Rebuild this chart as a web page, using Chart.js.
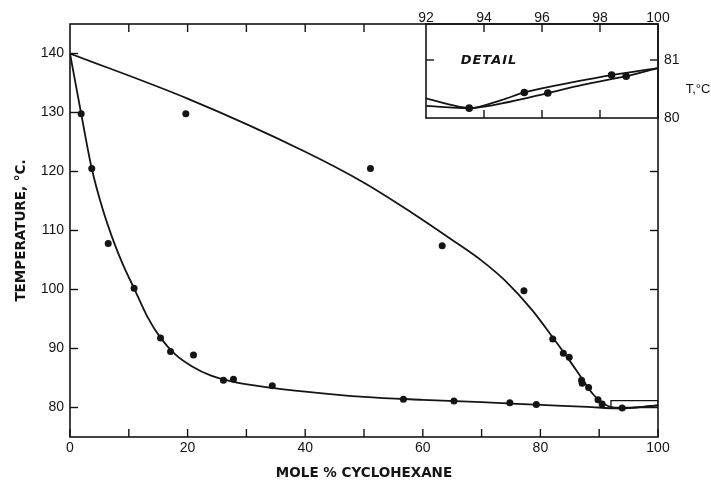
<!DOCTYPE html>
<html>
<head>
<meta charset="utf-8">
<script src="https://cdn.jsdelivr.net/npm/chart.js@4.4.1/dist/chart.umd.min.js"></script>
<style>
  html, body { margin: 0; padding: 0; background: #fff; }
  #wrap { position: relative; width: 711px; height: 482px; }
  #main { position: absolute; left: 0; top: 0; }
  #detail { position: absolute; left: 400px; top: 0; }
</style>
</head>
<body>
<div id="wrap">
  <canvas id="main" width="711" height="482"></canvas>
  <canvas id="detail" width="311" height="135"></canvas>
</div>
<script>
// Boiling points of the mixture, mole % cyclohexane vs temperature (°C)
const liquidPointsX = [1.9, 3.7, 6.5, 10.9, 15.4, 17.1, 21.0, 26.1, 27.8, 34.4, 56.7, 65.3, 74.8, 79.3];
const liquidPointsT = [129.8, 120.5, 107.8, 100.2, 91.8, 89.5, 88.9, 84.6, 84.8, 83.7, 81.4, 81.1, 80.8, 80.5];

const vaporPointsX = [19.7, 51.1, 63.3, 77.2, 82.1, 83.9, 84.9, 87.0, 87.1, 88.2, 89.8, 90.5, 93.9];
const vaporPointsT = [129.8, 120.5, 107.4, 99.8, 91.6, 89.2, 88.5, 84.6, 84.1, 83.4, 81.3, 80.6, 79.9];

// Smoothed curves through the measurements
const liquidCurveX = [0, 1.9, 3.7, 5.5, 7.4, 9.1, 10.9, 13.1, 15.4, 17.9, 20.7, 24, 28, 33, 40, 50, 60, 70, 80, 88, 93.5, 100];
const liquidCurveT = [140, 129.8, 120.5, 113.8, 108.2, 104.0, 100.2, 95.5, 91.8, 89.0, 87.0, 85.4, 84.3, 83.5, 82.7, 81.8, 81.3, 80.9, 80.45, 80.1, 79.85, 80.35];

const vaporCurveX = [0, 20, 40, 50, 58, 65, 70, 74, 78.6, 82.3, 85, 87, 89, 91, 93.5, 100];
const vaporCurveT = [140, 132.35, 123.35, 118.1, 113.1, 108.4, 104.9, 101.5, 96.5, 91.6, 87.9, 85.0, 82.2, 80.5, 79.85, 80.35];

// Outline of the region enlarged in the detail panel
const detailBoxX = [92, 100, 100, 92, 92];
const detailBoxT = [80.0, 80.0, 81.15, 81.15, 80.0];

const xTickValues = [0, 10, 20, 30, 40, 50, 60, 70, 80, 90, 100];
const xTopTickValues = [10, 20, 30, 40, 50];
const yTickValues = [80, 90, 100, 110, 120, 130, 140];
const yRightTickValues = [90, 100, 110, 120];

// Detail panel near the azeotrope
const detailVaporX = [92, 92.9, 93.5, 94.6, 95.39, 97.2, 98.4, 100];
const detailVaporT = [80.34, 80.22, 80.17, 80.31, 80.44, 80.63, 80.74, 80.86];
const detailLiquidX = [92, 92.9, 93.5, 94.9, 96.2, 97.4, 98.9, 100];
const detailLiquidT = [80.21, 80.18, 80.17, 80.28, 80.43, 80.57, 80.72, 80.86];
const detailPointsX = [93.49, 95.39, 96.2, 98.4, 98.9];
const detailPointsT = [80.17, 80.44, 80.43, 80.74, 80.72];
const detailXTickValues = [92, 94, 96, 98, 100];
const detailYTickValues = [80, 81];

const INK = '#141414';
const tickFont = { family: 'Liberation Sans, Arial, sans-serif', size: 14 };
const titleFont = { family: 'DejaVu Sans, sans-serif', size: 13.5, weight: 'bold' };

const pts = (xs, ys) => xs.map((x, i) => ({ x, y: ys[i] }));

function curve(xs, ys) {
  return {
    data: pts(xs, ys), showLine: true, borderColor: INK, borderWidth: 1.8,
    pointRadius: 0, cubicInterpolationMode: 'monotone', fill: false
  };
}
function markers(xs, ys, r) {
  return {
    data: pts(xs, ys), showLine: false, pointRadius: r, pointBackgroundColor: INK,
    pointBorderColor: INK, pointBorderWidth: 0
  };
}

function strokeTick(ctx, x1, y1, x2, y2) {
  ctx.beginPath(); ctx.moveTo(x1, y1); ctx.lineTo(x2, y2); ctx.stroke();
}

// Frame and inward-pointing tick marks of the main plot
const mainFrame = {
  id: 'mainFrame',
  afterDraw(chart) {
    const { ctx, chartArea: a, scales: { x, y } } = chart;
    const len = 8;
    ctx.save();
    ctx.strokeStyle = INK;
    ctx.lineWidth = 1.6;
    ctx.strokeRect(a.left, a.top, a.right - a.left, a.bottom - a.top);
    ctx.lineWidth = 1.4;
    xTickValues.forEach(v => { const px = x.getPixelForValue(v); strokeTick(ctx, px, a.bottom, px, a.bottom - len); });
    xTopTickValues.forEach(v => { const px = x.getPixelForValue(v); strokeTick(ctx, px, a.top, px, a.top + len); });
    yTickValues.forEach(v => { const py = y.getPixelForValue(v); strokeTick(ctx, a.left, py, a.left + len, py); });
    yRightTickValues.forEach(v => { const py = y.getPixelForValue(v); strokeTick(ctx, a.right, py, a.right - len, py); });
    ctx.restore();
  }
};

new Chart(document.getElementById('main'), {
  type: 'scatter',
  data: {
    datasets: [
      curve(liquidCurveX, liquidCurveT),
      curve(vaporCurveX, vaporCurveT),
      { data: pts(detailBoxX, detailBoxT), showLine: true, borderColor: INK, borderWidth: 1.3, pointRadius: 0, tension: 0 },
      markers(liquidPointsX, liquidPointsT, 3.5),
      markers(vaporPointsX, vaporPointsT, 3.5)
    ]
  },
  options: {
    responsive: false, animation: false, events: [],
    layout: { padding: { top: 24, right: 53, left: 0, bottom: 0 } },
    plugins: { legend: { display: false }, tooltip: { enabled: false } },
    scales: {
      x: {
        type: 'linear', min: 0, max: 100,
        afterBuildTicks: s => { s.ticks = xTickValues.map(v => ({ value: v })); },
        afterFit: s => { s.height = 45; },
        grid: { display: false, drawTicks: false },
        border: { display: false },
        ticks: { autoSkip: false, maxRotation: 0, padding: 3, color: INK, font: tickFont,
                 callback: v => (v % 20 === 0 ? String(v) : '') },
        title: { display: true, text: 'MOLE % CYCLOHEXANE', color: INK, font: titleFont, padding: { top: 0, bottom: 0 } }
      },
      y: {
        type: 'linear', min: 75, max: 145,
        afterBuildTicks: s => { s.ticks = yTickValues.map(v => ({ value: v })); },
        afterFit: s => { s.width = 70; },
        grid: { display: false, drawTicks: false },
        border: { display: false },
        ticks: { autoSkip: false, padding: 6, color: INK, font: tickFont },
        title: { display: true, text: 'TEMPERATURE, °C.', color: INK, font: titleFont, padding: { top: 13, bottom: 0 } }
      }
    }
  },
  plugins: [mainFrame]
});

// Frame, ticks and captions of the detail panel
const detailFrame = {
  id: 'detailFrame',
  afterDraw(chart) {
    const { ctx, chartArea: a, scales: { x, y } } = chart;
    const len = 8;
    ctx.save();
    ctx.strokeStyle = INK;
    ctx.lineWidth = 1.6;
    ctx.strokeRect(a.left, a.top, a.right - a.left, a.bottom - a.top);
    ctx.lineWidth = 1.4;
    [94, 96, 98].forEach(v => {
      const px = x.getPixelForValue(v);
      strokeTick(ctx, px, a.top, px, a.top + len);
      strokeTick(ctx, px, a.bottom, px, a.bottom - len);
    });
    const p81 = y.getPixelForValue(81);
    strokeTick(ctx, a.left, p81, a.left + len, p81);
    strokeTick(ctx, a.right, p81, a.right - len, p81);

    ctx.fillStyle = INK;
    ctx.textAlign = 'center';
    ctx.textBaseline = 'middle';
    ctx.font = 'italic bold 13px "DejaVu Sans", sans-serif';
    ctx.letterSpacing = '1px';
    ctx.fillText('DETAIL', a.left + 63, p81 + 1);
    ctx.letterSpacing = '0px';
    ctx.font = '13px "Liberation Sans", Arial, sans-serif';
    ctx.fillText('T,°C', a.right + 40, y.getPixelForValue(80.5));
    ctx.restore();
  }
};

new Chart(document.getElementById('detail'), {
  type: 'scatter',
  data: {
    datasets: [
      curve(detailVaporX, detailVaporT),
      curve(detailLiquidX, detailLiquidT),
      markers(detailPointsX, detailPointsT, 3.8)
    ]
  },
  options: {
    responsive: false, animation: false, events: [],
    layout: { padding: { top: 0, right: 0, left: 26, bottom: 17 } },
    plugins: { legend: { display: false }, tooltip: { enabled: false } },
    scales: {
      x: {
        type: 'linear', position: 'top', min: 92, max: 100,
        afterBuildTicks: s => { s.ticks = detailXTickValues.map(v => ({ value: v })); },
        afterFit: s => { s.height = 24; },
        grid: { display: false, drawTicks: false },
        border: { display: false },
        ticks: { autoSkip: false, maxRotation: 0, padding: -3, color: INK, font: tickFont }
      },
      y: {
        type: 'linear', position: 'right', min: 80, max: 81.62,
        afterBuildTicks: s => { s.ticks = detailYTickValues.map(v => ({ value: v })); },
        afterFit: s => { s.width = 53; },
        grid: { display: false, drawTicks: false },
        border: { display: false },
        ticks: { autoSkip: false, padding: 6, color: INK, font: tickFont }
      }
    }
  },
  plugins: [detailFrame]
});
</script>
</body>
</html>
